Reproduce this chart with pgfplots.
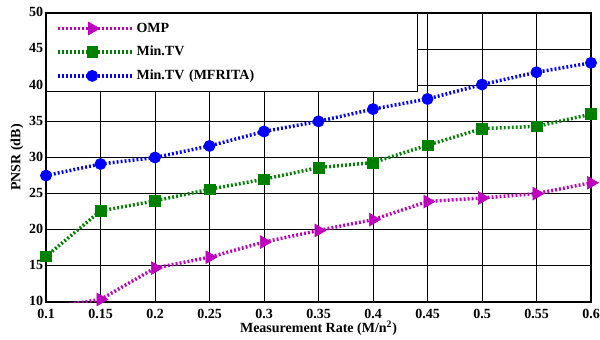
\documentclass[border=0pt]{standalone}
\usepackage{fontspec}
\setmainfont{Liberation Serif}
\usepackage{pgfplots}
\pgfplotsset{compat=1.18}
\definecolor{cmag}{rgb}{0.75,0,0.75}
\definecolor{cgreen}{rgb}{0,0.5,0}
\definecolor{cblue}{rgb}{0,0,1}
\tikzset{dline/.style={line width=2.6pt, dash pattern=on 1.4pt off 1.6pt}}
\begin{document}
\fontsize{10.5}{12}\selectfont\bfseries
\begin{tikzpicture}
\begin{axis}[
  scale only axis,
  width=408.75pt, height=216.75pt,
  xmin=0.1, xmax=0.6, ymin=10, ymax=50,
  xtick={0.1,0.15,...,0.61},
  ytick={10,15,...,50},
  xticklabels={0.1,0.15,0.2,0.25,0.3,0.35,0.4,0.45,0.5,0.55,0.6},
  /pgf/number format/assume math mode=true,
  ticklabel style={font=\fontsize{10.5}{12}\selectfont\bfseries},
  label style={font=\fontsize{10.5}{12}\selectfont\bfseries},
  xticklabel style={yshift=-1.5pt},
  yticklabel style={xshift=1.5pt, yshift=0.5pt},
  xlabel={Measurement Rate (M/n\textsuperscript{2})},
  ylabel={PNSR (dB)},
  xlabel style={at={(axis description cs:0.5,-0.09)}, anchor=center},
  ylabel style={at={(axis description cs:-0.0532,0.5)}, anchor=center},
  tick align=inside,
  major tick length=3pt,
  axis line style={black, line width=0.9pt},
  grid=major,
  grid style={black, line width=0.6pt},
  every tick/.style={black, line width=0.6pt},
  legend style={at={(0,1)}, anchor=north west, draw=black, line width=0.7pt,
    fill=white, inner xsep=7.5pt, inner ysep=5.5pt, row sep=6pt,
    font=\fontsize{10.5}{12}\selectfont\bfseries,
    nodes={text width=202pt, align=left, inner sep=1.5pt}},
  legend cell align=left,
  legend image code/.code={
    \draw[mark repeat=2, mark phase=2, #1] plot coordinates {(0pt,0pt) (25.5pt,0pt) (51pt,0pt)};
    \path (0pt,0pt) -- (56pt,0pt);
  },
]
\addplot[cmag, dline, mark=triangle*, mark size=5.5pt, mark options={solid, rotate=-90, line width=0.5pt}]
  coordinates {(0.15,10.35)(0.2,14.7)(0.25,16.2)(0.3,18.3)(0.35,19.9)(0.4,21.4)(0.45,23.9)(0.5,24.4)(0.55,25.0)(0.6,26.5)};
\addlegendentry{OMP}
\addplot[cgreen, dline, mark=square*, mark size=4pt, mark options={solid, line width=0.5pt}]
  coordinates {(0.1,16.3)(0.15,22.6)(0.2,24.0)(0.25,25.6)(0.3,27.0)(0.35,28.6)(0.4,29.3)(0.45,31.7)(0.5,34.0)(0.55,34.3)(0.6,36.0)};
\addlegendentry{Min.TV}
\addplot[cblue, dline, mark=*, mark size=4.2pt, mark options={solid, line width=0.5pt}]
  coordinates {(0.1,27.5)(0.15,29.1)(0.2,30.0)(0.25,31.6)(0.3,33.6)(0.35,35.0)(0.4,36.7)(0.45,38.1)(0.5,40.1)(0.55,41.8)(0.6,43.1)};
\addlegendentry{Min.TV (MFRITA)}
\addplot[cmag, dline, forget plot] coordinates {(0.1,9.2)(0.15,10.35)};
\end{axis}
\pgfresetboundingbox
\path ([shift={(-34.5pt,-27.75pt)}]current axis.south west) rectangle ([shift={(6.75pt,9.75pt)}]current axis.north east);
\end{tikzpicture}
\end{document}
